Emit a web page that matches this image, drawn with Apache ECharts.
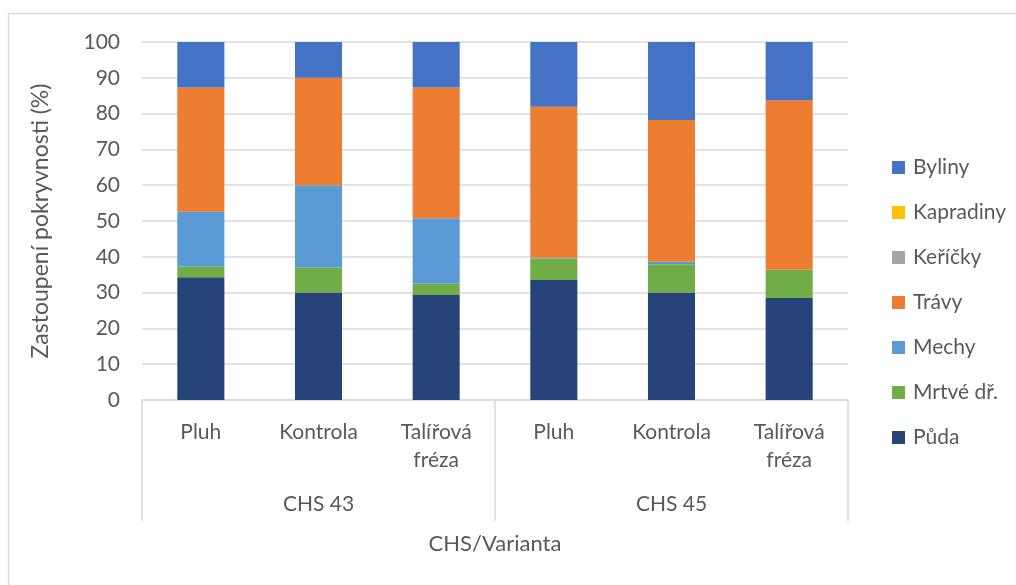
<!DOCTYPE html>
<html>
<head>
<meta charset="utf-8">
<script src="https://cdn.jsdelivr.net/npm/echarts@6/dist/echarts.min.js"></script>
<style>
html, body { margin: 0; padding: 0; background: #fff; }
#chart { width: 1016px; height: 585px; }
</style>
</head>
<body>
<div id="chart"></div>
<script>
var varianty = ['Pluh', 'Kontrola', 'Talířová\nfréza', 'Pluh', 'Kontrola', 'Talířová\nfréza'];
var chs = ['CHS 43', 'CHS 45'];
var yTicks = [0, 100, 10];

// hodnoty (%), pořadí sloupců jako varianty
var puda      = [34.3, 30.0, 29.3, 33.5, 30.0, 28.5];
var mrtveDr   = [3.0, 7.0, 3.2, 6.0, 7.9, 7.8];
var mechy     = [15.3, 23.0, 18.3, 0.2, 0.7, 0.1];
var travy     = [34.7, 30.0, 36.5, 42.2, 39.6, 47.3];
var kericky   = [0, 0, 0, 0, 0, 0];
var kapradiny = [0, 0, 0, 0, 0, 0];
var byliny    = [12.7, 10.0, 12.7, 18.1, 21.8, 16.3];

var font = 'Lato';
var textColor = '#595959';
var gridColor = '#d9d9d9';

var makeSeries = function (name, data, color) {
    return {
        name: name,
        type: 'bar',
        stack: 'total',
        barWidth: '40%',
        xAxisIndex: 0,
        itemStyle: {color: color},
        data: data
    };
};

var option = {
    animation: false,
    textStyle: {fontFamily: font},
    graphic: [
        {
            type: 'rect',
            shape: {x: 8.5, y: 13.5, width: 1100, height: 700},
            style: {fill: 'none', stroke: gridColor, lineWidth: 1.5},
            silent: true
        }
    ],
    grid: {left: 142, right: 168, top: 42, bottom: 185},
    legend: {
        orient: 'vertical',
        left: 887,
        top: 152,
        itemWidth: 13,
        itemHeight: 13,
        itemGap: 24,
        icon: 'rect',
        textStyle: {color: textColor, fontSize: 21, fontFamily: font, padding: [0, 0, 0, 3]},
        data: ['Byliny', 'Kapradiny', 'Keříčky', 'Trávy', 'Mechy', 'Mrtvé dř.', 'Půda']
    },
    xAxis: [
        {
            type: 'category',
            data: varianty,
            position: 'bottom',
            axisLine: {lineStyle: {color: gridColor, width: 1.5}},
            axisTick: {show: false},
            axisLabel: {color: textColor, fontSize: 21, margin: 18, lineHeight: 28, interval: 0}
        },
        {
            type: 'category',
            data: chs,
            position: 'bottom',
            axisLine: {show: false},
            axisTick: {show: true, length: 121, lineStyle: {color: gridColor, width: 1.5}},
            axisLabel: {color: textColor, fontSize: 21, margin: 94},
            name: 'CHS/Varianta',
            nameLocation: 'middle',
            nameGap: 133,
            nameTextStyle: {color: textColor, fontSize: 22}
        }
    ],
    yAxis: [
        {
            type: 'value',
            min: yTicks[0],
            max: yTicks[1],
            interval: yTicks[2],
            axisLine: {show: false},
            axisTick: {show: false},
            axisLabel: {color: textColor, fontSize: 21, margin: 22},
            splitLine: {lineStyle: {color: gridColor, width: 1.5}},
            name: 'Zastoupení pokryvnosti (%)',
            nameLocation: 'middle',
            nameRotate: 90,
            nameGap: 90,
            nameTextStyle: {color: textColor, fontSize: 23}
        }
    ],
    series: [
        makeSeries('Půda', puda, '#264478'),
        makeSeries('Mrtvé dř.', mrtveDr, '#70AD47'),
        makeSeries('Mechy', mechy, '#5B9BD5'),
        makeSeries('Trávy', travy, '#ED7D31'),
        makeSeries('Keříčky', kericky, '#A5A5A5'),
        makeSeries('Kapradiny', kapradiny, '#FFC000'),
        makeSeries('Byliny', byliny, '#4472C4')
    ]
};

var myChart = echarts.init(document.getElementById('chart'));
myChart.setOption(option);
</script>
</body>
</html>
